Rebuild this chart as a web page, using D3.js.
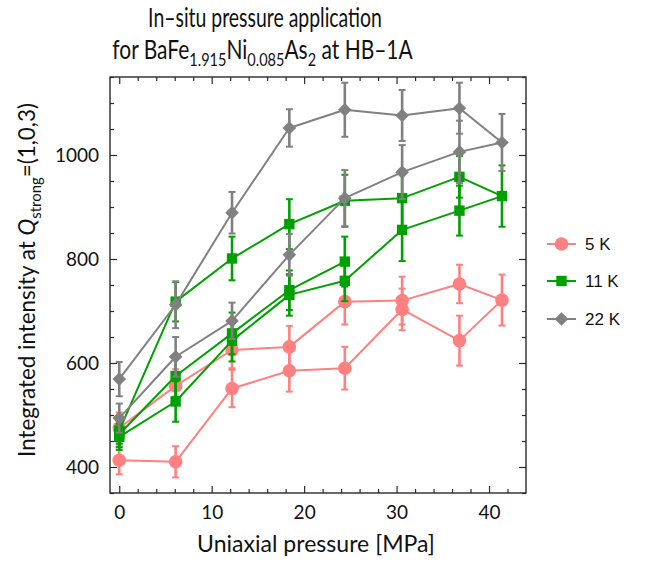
<!DOCTYPE html>
<html><head><meta charset="utf-8">
<script src="https://cdn.jsdelivr.net/npm/d3@7"></script>
<style>body{margin:0;background:#fff}svg{display:block}</style>
</head><body>
<script>
// ---- data ----
const series = ["5 K", "11 K", "22 K"];
const xTicks = [0, 10, 20, 30, 40];
const yTicks = [400, 600, 800, 1000];

const p5K = [0, 6.1, 12.2, 18.4, 24.4, 30.6, 36.8, 41.4, 36.8, 30.6, 24.4, 18.4, 12.2, 6.1, 0];
const i5K = [413, 410, 551, 585, 590, 703, 643, 721, 752, 720, 718, 631, 625, 556, 475];
const e5K = [27, 30, 36, 40, 41, 40, 48, 49, 37, 46, 44, 40, 35, 32, 30];

const p11K = [0, 6.1, 12.2, 18.4, 24.4, 30.6, 36.8, 41.4, 36.8, 30.6, 24.4, 18.4, 12.2, 6.1, 0, 0, 6.1, 12.2, 18.4, 24.4];
const i11K = [470, 718, 801, 867, 912, 917, 958, 921, 893, 856, 758, 731, 643, 526, 458, 463, 575, 657, 740, 795];
const e11K = [25, 38, 42, 48, 50, 55, 40, 59, 48, 60, 39, 40, 40, 39, 25, 25, 40, 40, 38, 48];

const p22K = [0, 6.1, 12.2, 18.4, 24.4, 30.6, 36.8, 41.4, 36.8, 30.6, 24.4, 18.4, 12.2, 6.1, 0];
const i22K = [569, 712, 889, 1052, 1087, 1076, 1090, 1024, 1006, 967, 917, 808, 681, 612, 494];
const e22K = [33, 45, 40, 36, 52, 49, 49, 55, 60, 52, 54, 40, 35, 38, 28];

const colors = ["#ff8080", "#00a000", "#808080"];
const shapes = ["circle", "square", "diamond"];

// ---- layout ----
const W = 657, H = 566;
const svg = d3.select("body").append("svg").attr("width", W).attr("height", H);
const FONT = "Lato, 'Open Sans', sans-serif";

const x = d3.scaleLinear().domain([-1, 44]).range([110, 526]);
const y = d3.scaleLinear().domain([350, 1150]).range([493, 77]);

const ink = "#2a2a2a";
function styleAxis(g, labels) {
  g.select(".domain").remove();
  g.selectAll(".tick line").attr("stroke", ink).attr("stroke-width", 1.2);
  if (!labels) g.selectAll(".tick text").remove();
  else g.selectAll(".tick text").attr("fill", "#111").style("font-family", FONT).style("font-size", "19px");
}
const minorX = d3.range(0, 44, 2).filter(v => v % 10 !== 0);
const minorY = d3.range(350, 1151, 50).filter(v => v % 200 !== 0);

// bottom
svg.append("g").attr("transform", `translate(0,${y.range()[0]})`)
  .call(d3.axisBottom(x).tickValues(xTicks).tickSize(-7).tickPadding(13).tickFormat(d3.format("d")))
  .call(g => styleAxis(g, true));
svg.append("g").attr("transform", `translate(0,${y.range()[0]})`)
  .call(d3.axisBottom(x).tickValues(minorX).tickSize(-4)).call(g => styleAxis(g, false));
// top
svg.append("g").attr("transform", `translate(0,${y.range()[1]})`)
  .call(d3.axisTop(x).tickValues(xTicks).tickSize(-7)).call(g => styleAxis(g, false));
svg.append("g").attr("transform", `translate(0,${y.range()[1]})`)
  .call(d3.axisTop(x).tickValues(minorX).tickSize(-4)).call(g => styleAxis(g, false));
// left
svg.append("g").attr("transform", `translate(${x.range()[0]},0)`)
  .call(d3.axisLeft(y).tickValues(yTicks).tickSize(-7).tickPadding(11).tickFormat(d3.format("d")))
  .call(g => styleAxis(g, true));
svg.append("g").attr("transform", `translate(${x.range()[0]},0)`)
  .call(d3.axisLeft(y).tickValues(minorY).tickSize(-4)).call(g => styleAxis(g, false));
// right
svg.append("g").attr("transform", `translate(${x.range()[1]},0)`)
  .call(d3.axisRight(y).tickValues(yTicks).tickSize(-7)).call(g => styleAxis(g, false));
svg.append("g").attr("transform", `translate(${x.range()[1]},0)`)
  .call(d3.axisRight(y).tickValues(minorY).tickSize(-4)).call(g => styleAxis(g, false));

// frame
svg.append("rect").attr("x", x.range()[0]).attr("y", y.range()[1])
  .attr("width", x.range()[1] - x.range()[0]).attr("height", y.range()[0] - y.range()[1])
  .attr("fill", "none").attr("stroke", ink).attr("stroke-width", 1.4);

// ---- series ----
const data = [
  p5K.map((p, i) => ({p, v: i5K[i], e: e5K[i]})),
  p11K.map((p, i) => ({p, v: i11K[i], e: e11K[i]})),
  p22K.map((p, i) => ({p, v: i22K[i], e: e22K[i]}))
];
const line = d3.line().x(d => x(d.p)).y(d => y(d.v));

function marker(g, shape, color, cx, cy) {
  if (shape === "circle") g.append("circle").attr("cx", cx).attr("cy", cy).attr("r", 6.8).attr("fill", color);
  else if (shape === "square") g.append("rect").attr("x", cx - 5.2).attr("y", cy - 5.2).attr("width", 10.4).attr("height", 10.4).attr("fill", color);
  else g.append("path").attr("d", `M${cx},${cy - 6.8}L${cx + 6.8},${cy}L${cx},${cy + 6.8}L${cx - 6.8},${cy}Z`).attr("fill", color);
}

const plot = svg.append("g");
data.forEach((d, si) => {
  const g = plot.append("g");
  const c = colors[si];
  g.append("path").datum(d).attr("d", line).attr("fill", "none").attr("stroke", c).attr("stroke-width", 2).attr("stroke-linejoin", "round");
  const eb = g.append("g").attr("stroke", c);
  d.forEach(pt => {
    const cx = x(pt.p), y1 = y(pt.v + pt.e), y2 = y(pt.v - pt.e);
    eb.append("line").attr("x1", cx).attr("x2", cx).attr("y1", y1).attr("y2", y2).attr("stroke-width", 2.6);
    eb.append("line").attr("x1", cx - 3.5).attr("x2", cx + 3.5).attr("y1", y1).attr("y2", y1).attr("stroke-width", 2);
    eb.append("line").attr("x1", cx - 3.5).attr("x2", cx + 3.5).attr("y1", y2).attr("y2", y2).attr("stroke-width", 2);
  });
  d.forEach(pt => marker(g, shapes[si], c, x(pt.p), y(pt.v)));
});

// ---- legend ----
const legY = [244, 281, 319];
series.forEach((s, i) => {
  const g = svg.append("g");
  g.append("line").attr("x1", 547).attr("x2", 576).attr("y1", legY[i]).attr("y2", legY[i]).attr("stroke", colors[i]).attr("stroke-width", 2);
  marker(g, shapes[i], colors[i], 561.5, legY[i]);
  g.append("text").attr("x", 585).attr("y", legY[i]).attr("dy", "0.36em").text(s)
    .style("font-family", "'Liberation Sans', Arial, sans-serif").style("font-size", "17px").attr("fill", "#111");
});

// ---- texts ----
function fitX(t, w, extra) {
  const bw = t.node().getBBox().width;
  const s = w / bw;
  t.attr("transform", (extra || "") + ` scale(${s},1)`);
}
// title
const t1 = svg.append("text").attr("text-anchor", "middle").style("font-family", FONT).style("font-size", "26px").attr("fill", "#111")
  .text("In–situ pressure application");
t1.attr("x", 0).attr("y", 0);
fitX(t1, 234, "translate(265,27)");

const t2 = svg.append("text").attr("text-anchor", "middle").style("font-family", FONT).style("font-size", "26px").attr("fill", "#111");
t2.append("tspan").text("for BaFe");
t2.append("tspan").attr("dy", 7).style("font-size", "18px").text("1.915");
t2.append("tspan").attr("dy", -7).text("Ni");
t2.append("tspan").attr("dy", 7).style("font-size", "18px").text("0.085");
t2.append("tspan").attr("dy", -7).text("As");
t2.append("tspan").attr("dy", 7).style("font-size", "18px").text("2");
t2.append("tspan").attr("dy", -7).text(" at HB–1A");
fitX(t2, 301, "translate(262.5,59)");

// x label
const xl = svg.append("text").attr("text-anchor", "middle").style("font-family", FONT).style("font-size", "24px").attr("fill", "#111")
  .text("Uniaxial pressure [MPa]");
fitX(xl, 238, "translate(316,552)");

// y label
const yl = svg.append("text").attr("text-anchor", "middle").style("font-family", FONT).style("font-size", "24px").attr("fill", "#111");
yl.append("tspan").text("Integrated intensity at ");
yl.append("tspan").style("font-style", "italic").text("Q");
yl.append("tspan").attr("dy", 6).style("font-size", "16px").text("strong");
yl.append("tspan").attr("dy", -6).text("=(1,0,3)");
fitX(yl, 354, "translate(35,280) rotate(-90)");
</script>
</body></html>
